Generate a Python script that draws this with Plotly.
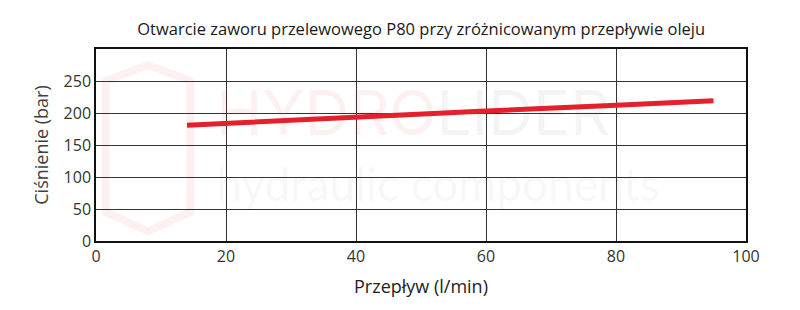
import plotly.graph_objects as go

flow = [14, 20, 40, 60, 80, 95]
pressure = [181, 184, 193, 203, 212, 219]
y_ticks = [0, 50, 100, 150, 200, 250]
x_ticks = [0, 20, 40, 60, 80, 100]

title = "Otwarcie zaworu przelewowego P80 przy zróżnicowanym przepływie oleju"
x_title = "Przepływ (l/min)"
y_title = "Ciśnienie (bar)"
wm_brand = "<span style='color:rgba(220,40,40,0.07)'>HYDRO</span><span style='color:rgba(0,0,0,0.045)'>LIDER</span>"
wm_sub = "hydraulic components"

fig = go.Figure()
# faint watermark (below the data line)
fig.add_trace(go.Scatter(x=[18.5], y=[190], mode="text", text=[wm_brand], textposition="middle right",
                         textfont=dict(size=62, family="Inter, sans-serif"), hoverinfo="skip", showlegend=False))
fig.add_trace(go.Scatter(x=[18.5], y=[80], mode="text", text=[wm_sub], textposition="middle right",
                         textfont=dict(size=46, family="Lato, sans-serif", color="rgba(0,0,0,0.045)"),
                         hoverinfo="skip", showlegend=False))
fig.add_trace(go.Scatter(x=flow, y=pressure, mode="lines",
                         line=dict(color="#e3202b", width=5), showlegend=False))

# faint logo outline
fig.add_shape(type="path", xref="x", yref="y", layer="below",
              path="M 8 275 L 14.5 250 L 14.5 45 L 8 15 L 1.5 45 L 1.5 250 Z",
              line=dict(color="rgba(220,40,40,0.07)", width=8))

font_family = "Open Sans, Liberation Sans, sans-serif"

fig.update_layout(
    width=800, height=310,
    margin=dict(l=96, r=54, t=49, b=69),
    paper_bgcolor="white", plot_bgcolor="rgba(0,0,0,0)",
    title=dict(text=title, x=0.5265, xanchor="center", y=0.905, yanchor="middle",
               font=dict(size=16.5, color="#1a1a1a", family=font_family)),
    font=dict(family=font_family, color="#404040"),
)
fig.update_xaxes(range=[0, 100], tickvals=x_ticks, showgrid=True, gridcolor="#333333", gridwidth=1,
                 showline=True, linecolor="#111111", linewidth=1.5, mirror=True,
                 zeroline=False, ticks="", tickfont=dict(size=16, color="#333333"),
                 title=dict(text=x_title, font=dict(size=18, color="#222222"), standoff=14))
fig.update_yaxes(range=[0, 300], tickvals=y_ticks, showgrid=True, gridcolor="#333333", gridwidth=1,
                 showline=True, linecolor="#111111", linewidth=1.5, mirror=True,
                 zeroline=False, ticks="", tickfont=dict(size=16, color="#333333"),
                 title=dict(text=y_title, font=dict(size=18, color="#404040"), standoff=10))

fig.write_html("out.html")
